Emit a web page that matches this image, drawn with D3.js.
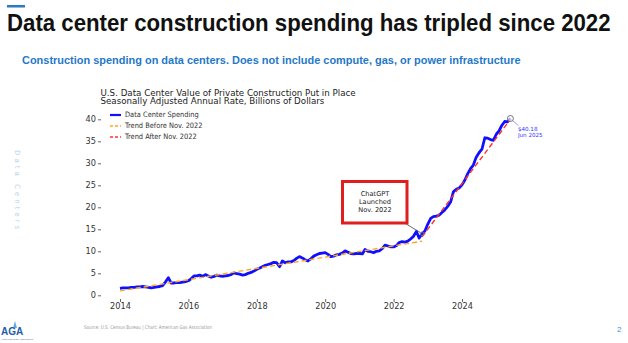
<!DOCTYPE html>
<html>
<head>
<meta charset="utf-8">
<script src="https://cdn.jsdelivr.net/npm/d3@7"></script>
<style>
  body { margin: 0; background: #fff; }
  svg { display: block; }
  .tick line { stroke: #666; }
  .tick text { fill: #333; font-family: "DejaVu Sans", sans-serif; font-size: 8.2px; }
</style>
</head>
<body>
<svg id="chart" width="628" height="343"></svg>
<script>
// monthly spending, billions of dollars (SAAR), starting Jan 2014
var startMonth = new Date(2014, 0, 1);
var spending2014 = [1.6, 1.7, 1.7, 1.7, 1.8, 1.8, 1.9, 1.9, 2.0, 1.9, 1.8, 1.7];
var spending2015 = [1.8, 1.9, 2.0, 2.2, 3.0, 4.0, 2.8, 2.8, 2.9, 2.9, 3.0, 3.1];
var spending2016 = [3.3, 3.8, 4.4, 4.4, 4.6, 4.3, 4.7, 4.4, 4.1, 4.3, 4.6, 4.4];
var spending2017 = [4.3, 4.4, 4.5, 4.7, 5.1, 4.9, 4.8, 4.6, 4.7, 5.0, 5.2, 5.5];
var spending2018 = [5.9, 6.2, 6.5, 6.8, 7.0, 7.2, 7.5, 7.4, 6.5, 7.8, 7.4, 7.6];
var spending2019 = [7.6, 7.9, 8.4, 8.8, 8.5, 8.1, 7.8, 8.3, 8.9, 9.2, 9.5, 9.6];
var spending2020 = [9.7, 9.3, 8.8, 8.9, 9.2, 9.3, 9.6, 10.1, 9.8, 9.5, 9.4, 9.5];
var spending2021 = [9.5, 9.4, 10.4, 10.0, 9.9, 9.7, 10.0, 10.1, 10.6, 11.4, 11.2, 11.0];
var spending2022 = [11.0, 11.3, 12.0, 12.2, 12.1, 12.3, 12.8, 13.4, 14.5, 13.0, 14.0, 14.6];
var spending2023 = [16.2, 17.5, 17.9, 18.0, 18.2, 18.8, 19.4, 20.2, 21.2, 23.5, 24.1, 24.4];
var spending2024 = [25.1, 26.2, 27.6, 28.8, 29.6, 31.4, 32.4, 33.2, 35.8, 35.7, 35.4, 35.2];
var spending2025 = [36.6, 37.4, 38.6, 39.5, 39.4, 40.18];

// fitted trend lines, [date, value] end points
var trendBefore = [[new Date(2014, 0, 1), 1.0], [new Date(2022, 10, 1), 12.3]];
var trendAfter = [[new Date(2022, 10, 1), 13.3], [new Date(2025, 5, 1), 40.0]];

var yTicks = [0, 5, 10, 15, 20, 25, 30, 35, 40];
var xTickYears = [2014, 2016, 2018, 2020, 2022, 2024];
var legendLabels = ["Data Center Spending", "Trend Before Nov. 2022", "Trend After Nov. 2022"];
var calloutLines = ["ChatGPT", "Launched", "Nov. 2022"];
var calloutDate = new Date(2022, 10, 1);

var allValues = [].concat(spending2014, spending2015, spending2016, spending2017,
  spending2018, spending2019, spending2020, spending2021, spending2022,
  spending2023, spending2024, spending2025);

var series = allValues.map(function(v, i) {
  return { date: d3.timeMonth.offset(startMonth, i), value: v };
});

var svg = d3.select("#chart");

// stretch or squeeze a text horizontally so it spans the given width
function fitWidth(sel, x0, width) {
  var w = sel.node().getComputedTextLength();
  var k = width / w;
  sel.attr("x", 0).attr("transform", "translate(" + x0 + ",0) scale(" + k + ",1)");
}

// page header
svg.append("rect").attr("x", 7).attr("y", 5).attr("width", 18).attr("height", 2.5).attr("fill", "#2b7bc4");

var headline = svg.append("text")
  .attr("y", 31.5)
  .attr("font-family", "'Liberation Sans Narrow', 'Liberation Sans', Arial, sans-serif")
  .attr("font-size", 24.5)
  .attr("font-weight", "bold")
  .attr("fill", "#111")
  .text("Data center construction spending has tripled since 2022");
fitWidth(headline, 7, 604);

var subhead = svg.append("text")
  .attr("y", 64)
  .attr("font-family", "'Liberation Sans', Arial, sans-serif")
  .attr("font-size", 10)
  .attr("font-weight", "bold")
  .attr("fill", "#1f78c8")
  .text("Construction spending on data centers. Does not include compute, gas, or power infrastructure");
fitWidth(subhead, 22, 499);

// vertical side label
svg.append("text")
  .attr("transform", "translate(15,150) rotate(90)")
  .attr("font-family", "'DejaVu Sans', sans-serif")
  .attr("font-size", 7)
  .attr("letter-spacing", 3)
  .attr("fill", "#b3d3ec")
  .text("Data Centers");

// chart title
var chartTitle = svg.append("text")
  .attr("font-family", "'DejaVu Sans', sans-serif")
  .attr("font-size", 8.7)
  .attr("fill", "#222");
chartTitle.append("tspan").attr("x", 100.5).attr("y", 95.5).text("U.S. Data Center Value of Private Construction Put in Place");
chartTitle.append("tspan").attr("x", 100.5).attr("y", 104).text("Seasonally Adjusted Annual Rate, Billions of Dollars");

// scales
var x = d3.scaleTime()
  .domain([new Date(2014, 0, 1), new Date(2024, 0, 1)])
  .range([120, 462]);
var y = d3.scaleLinear().domain([0, 40]).range([295.3, 119.3]);

var yAxis = svg.append("g")
  .attr("transform", "translate(101,0)")
  .call(d3.axisLeft(y).tickValues(yTicks).tickSize(3).tickPadding(2));
yAxis.select(".domain").remove();

var xAxis = svg.append("g")
  .attr("transform", "translate(0,299)")
  .call(d3.axisBottom(x)
    .tickValues(xTickYears.map(function(yr) { return new Date(yr, 0, 1); }))
    .tickFormat(d3.timeFormat("%Y"))
    .tickSize(3).tickPadding(1.5));
xAxis.select(".domain").remove();

// lines
var line = d3.line()
  .x(function(d) { return x(d.date); })
  .y(function(d) { return y(d.value); });

var trendLine = d3.line()
  .x(function(d) { return x(d[0]); })
  .y(function(d) { return y(d[1]); });

svg.append("path")
  .datum(series)
  .attr("d", line)
  .attr("fill", "none")
  .attr("stroke", "#1010ff")
  .attr("stroke-width", 2.8)
  .attr("stroke-linejoin", "round");

svg.append("path")
  .datum(trendBefore)
  .attr("d", trendLine)
  .attr("fill", "none")
  .attr("stroke", "#ffa620")
  .attr("stroke-width", 1.4)
  .attr("stroke-dasharray", "5,3");

svg.append("path")
  .datum(trendAfter)
  .attr("d", trendLine)
  .attr("fill", "none")
  .attr("stroke", "#ff3030")
  .attr("stroke-width", 1.4)
  .attr("stroke-dasharray", "5,3");

// legend
var legendStyles = [
  { stroke: "#1010ff", width: 2.2, dash: null },
  { stroke: "#ffa620", width: 1.3, dash: "3,2" },
  { stroke: "#ff3030", width: 1.3, dash: "3,2" }
];
var legend = svg.append("g").attr("transform", "translate(110,115)");
legendLabels.forEach(function(label, i) {
  var row = legend.append("g").attr("transform", "translate(0," + (i * 11) + ")");
  row.append("line")
    .attr("x1", 0).attr("x2", 11).attr("y1", 0).attr("y2", 0)
    .attr("stroke", legendStyles[i].stroke)
    .attr("stroke-width", legendStyles[i].width)
    .attr("stroke-dasharray", legendStyles[i].dash);
  row.append("text")
    .attr("x", 15).attr("y", 2.3)
    .attr("font-family", "'DejaVu Sans Condensed', 'DejaVu Sans', sans-serif")
    .attr("font-size", 7.4)
    .attr("fill", "#333")
    .text(label);
});

// ChatGPT callout
var calloutPoint = series.find(function(d) { return +d.date === +calloutDate; });
var cx = x(calloutPoint.date), cy = y(calloutPoint.value);

svg.append("line")
  .attr("x1", 393).attr("y1", 216)
  .attr("x2", cx - 1.5).attr("y2", cy - 1)
  .attr("stroke", "#444")
  .attr("stroke-width", 0.8);
svg.append("circle")
  .attr("cx", cx).attr("cy", cy).attr("r", 1.8)
  .attr("fill", "none").attr("stroke", "#777").attr("stroke-width", 0.8);

svg.append("rect")
  .attr("x", 342.5).attr("y", 181.5)
  .attr("width", 64.5).attr("height", 41.5)
  .attr("fill", "#fff")
  .attr("stroke", "#e01e1e")
  .attr("stroke-width", 3);

calloutLines.forEach(function(t, i) {
  svg.append("text")
    .attr("x", 375).attr("y", 195.5 + i * 8.2)
    .attr("text-anchor", "middle")
    .attr("font-family", "'DejaVu Sans', sans-serif")
    .attr("font-size", 6.6)
    .attr("fill", "#222")
    .text(t);
});

// latest value marker
var last = series[series.length - 1];
var lx = x(last.date), ly = y(last.value);
svg.append("line")
  .attr("x1", lx + 2).attr("y1", ly + 2)
  .attr("x2", lx + 8).attr("y2", ly + 7)
  .attr("stroke", "#5555ff").attr("stroke-width", 0.6);
svg.append("circle")
  .attr("cx", lx).attr("cy", ly).attr("r", 3)
  .attr("fill", "#fff").attr("fill-opacity", 0.6)
  .attr("stroke", "#666").attr("stroke-width", 0.9);
svg.append("text")
  .attr("x", lx + 7.5).attr("y", ly + 12)
  .attr("font-family", "'DejaVu Sans', sans-serif")
  .attr("font-size", 5.6)
  .attr("fill", "#3333ff")
  .text("$" + d3.format(".2f")(last.value));
svg.append("text")
  .attr("x", lx + 7.5).attr("y", ly + 18)
  .attr("font-family", "'DejaVu Sans', sans-serif")
  .attr("font-size", 5.6)
  .attr("fill", "#3333ff")
  .text("Jun 2025");

// footer
var source = svg.append("text")
  .attr("y", 329)
  .attr("font-family", "'DejaVu Sans Condensed', 'DejaVu Sans', sans-serif")
  .attr("font-size", 5.2)
  .attr("fill", "#999")
  .text("Source: U.S. Census Bureau | Chart: American Gas Association");
fitWidth(source, 84, 128);

svg.append("text")
  .attr("x", 617).attr("y", 332)
  .attr("font-family", "'Liberation Sans', Arial, sans-serif")
  .attr("font-size", 8)
  .attr("fill", "#3a8fd6")
  .text("2");

// AGA mark
var logo = svg.append("g").attr("transform", "translate(1,321)");
logo.append("path")
  .attr("d", "M12,7 L14,0 L16,7 Z")
  .attr("fill", "#6aa8dc");
logo.append("text")
  .attr("x", 0).attr("y", 14)
  .attr("font-family", "'Liberation Sans', Arial, sans-serif")
  .attr("font-size", 10)
  .attr("font-weight", "bold")
  .attr("fill", "#1d5ea8")
  .text("AGA");
logo.append("text")
  .attr("x", 0).attr("y", 19)
  .attr("font-family", "'Liberation Sans', Arial, sans-serif")
  .attr("font-size", 2.5)
  .attr("textLength", 32)
  .attr("fill", "#1d5ea8")
  .text("American Gas Association");
</script>
</body>
</html>
